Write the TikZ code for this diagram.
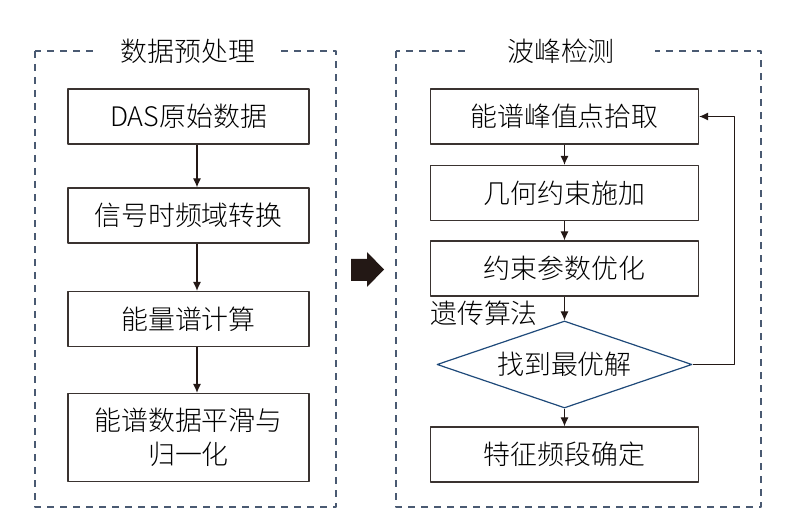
\documentclass[tikz,border=0pt]{standalone}
\usepackage{fontspec}
\newfontfamily\cjk{Noto Sans CJK SC}[UprightFont={* Light}]
\usetikzlibrary{shapes.geometric,arrows.meta}
\definecolor{boxgray}{HTML}{3A3330}
\definecolor{framegray}{HTML}{4A5A72}
\definecolor{diablue}{HTML}{1F4A7A}
\definecolor{inkblack}{HTML}{231815}
\tikzset{
  lbox/.style={draw=boxgray, line width=1.2bp, minimum width=241bp, minimum height=55bp, inner sep=0pt},
  rbox/.style={lbox, minimum width=268bp},
  decision/.style={diamond, draw=diablue, line width=1.2bp, minimum width=255bp, minimum height=87bp, shape aspect=2.9, inner sep=0pt},
  frame/.style={draw=framegray, line width=1.2bp, dash pattern=on 7bp off 6bp},
  title/.style={fill=white, inner sep=0pt, minimum height=30bp},
  flow/.style={-{Latex[length=9bp,width=8bp]}, line width=1.1bp, draw=inkblack}
}
\begin{document}
\begin{tikzpicture}[x=1bp, y=-1bp, font=\cjk\fontsize{27}{34}\selectfont, line join=round] % 预处理 + 波峰检测
	\useasboundingbox (0,0) rectangle (793,528);
	% frames
	\draw[frame] (35,51) rectangle (336,507);
	\draw[frame] (396,51) rectangle (761,507);
	\node[title, minimum width=180bp] (pretitle) at (188,51) {数据预处理};
	\node[title, minimum width=188bp] (peaktitle) at (561,51) {波峰检测};
	% left column
	\node[lbox] (das) at (188.5,116.5) {DAS原始数据};
	\node[lbox] (stft) at (188.5,215.5) {信号时频域转换};
	\node[lbox] (energy) at (188.5,319) {能量谱计算};
	\node[lbox, minimum height=88bp, align=center] (smooth) at (188.5,437.5) {能谱数据平滑与\\归一化};
	\draw[flow] ([xshift=8.5bp]das.south) -- ([xshift=8.5bp]stft.north);
	\draw[flow] ([xshift=8.5bp]stft.south) -- ([xshift=8.5bp]energy.north);
	\draw[flow] ([xshift=8.5bp]energy.south) -- ([xshift=8.5bp]smooth.north);
	% block arrow
	\fill[inkblack] (351,259) -- (367,259) -- (367,252) -- (384,269.5) -- (367,287) -- (367,281) -- (351,281) -- cycle;
	% right column
	\node[rbox] (pick) at (564.5,116.5) {能谱峰值点拾取};
	\node[rbox] (geo) at (564.5,193) {几何约束施加};
	\node[rbox] (opt) at (564.5,268.5) {约束参数优化};
	\node[decision] (found) at (564.5,364.5) {找到最优解};
	\node[rbox] (band) at (564.5,454.5) {特征频段确定};
	\node[anchor=west, inner sep=0pt] (ga) at (430,313) {遗传算法};
	\draw[flow] (pick) -- (geo);
	\draw[flow] (geo) -- (opt);
	\draw[flow] (opt) -- (found);
	\draw[flow] (found) -- (band);
	\draw[flow] (found.east) -- ++(42,0) |- (pick.east);
\end{tikzpicture}
\end{document}
